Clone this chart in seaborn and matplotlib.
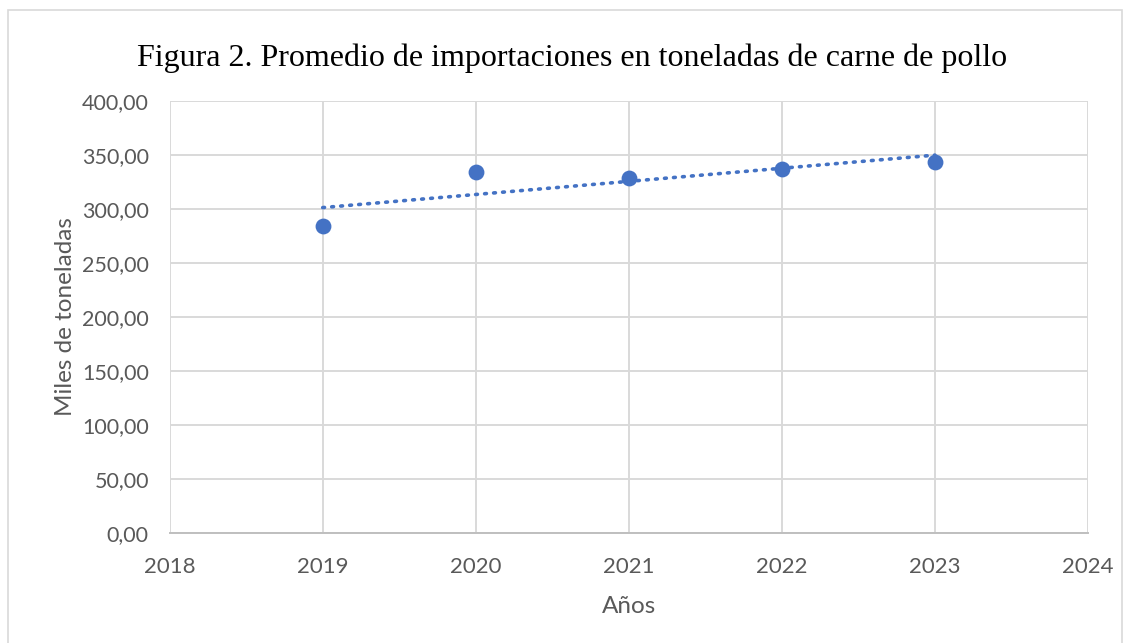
import numpy as np
import pandas as pd
import matplotlib
matplotlib.use("Agg")
import matplotlib.pyplot as plt
import matplotlib.patches as patches
from matplotlib.ticker import FuncFormatter
import seaborn as sns

# data
years = [2019, 2020, 2021, 2022, 2023]
imports_kt = [284.4, 334.1, 328.5, 337.3, 343.5]
x_ticks = [2018, 2019, 2020, 2021, 2022, 2023, 2024]
y_ticks = [0, 50, 100, 150, 200, 250, 300, 350, 400]

df = pd.DataFrame({"year": years, "value": imports_kt})

sns.set_theme(style="white")
plt.rcParams['font.family'] = ['Lato', 'DejaVu Sans']

blue = "#4472C4"
grid_col = "#D9D9D9"
text_col = "#595959"

fig = plt.figure(figsize=(11.31, 6.43), dpi=100)
ax = fig.add_axes([0.150, 0.171, 0.812, 0.672])

sns.regplot(data=df, x="year", y="value", ax=ax, ci=None, truncate=True,
            scatter_kws={"s": 130, "color": blue, "alpha": 1, "zorder": 3, "linewidths": 0},
            line_kws={"color": blue, "ls": (0, (0.5, 2.0)), "lw": 2.6,
                      "dash_capstyle": "round", "zorder": 2})

ax.set_xlim(2018, 2024)
ax.set_ylim(0, 400)
ax.set_xticks(x_ticks)
ax.set_yticks(y_ticks)
ax.yaxis.set_major_formatter(FuncFormatter(lambda v, p: f"{v:.2f}".replace(".", ",")))
ax.grid(True, color=grid_col, lw=1.4)
ax.set_axisbelow(True)
for s in ["top", "right", "left"]:
    ax.spines[s].set_visible(False)
ax.spines["bottom"].set_color("#BFBFBF")
ax.spines["bottom"].set_linewidth(1.4)
ax.tick_params(axis="both", length=0, colors=text_col)
ax.tick_params(axis="y", labelsize=15.5, pad=15)
ax.tick_params(axis="x", labelsize=16, pad=17)

ax.set_xlabel("Años", fontsize=17.5, color=text_col, labelpad=14)
ax.set_ylabel("Miles de toneladas", fontsize=17.5, color=text_col, labelpad=4)

fig.text(0.506, 1 - 66 / 643, "Figura 2. Promedio de importaciones en toneladas de carne de pollo",
         ha="center", va="baseline", fontsize=23, family=["Liberation Serif"], color="black")

frame = patches.Rectangle((8 / 1131, -0.01), (1122 - 8) / 1131, 1 - 10 / 643 + 0.01,
                          transform=fig.transFigure, fill=False, edgecolor=grid_col, lw=1.2)
fig.patches.append(frame)

fig.savefig("out.png", dpi=100)
